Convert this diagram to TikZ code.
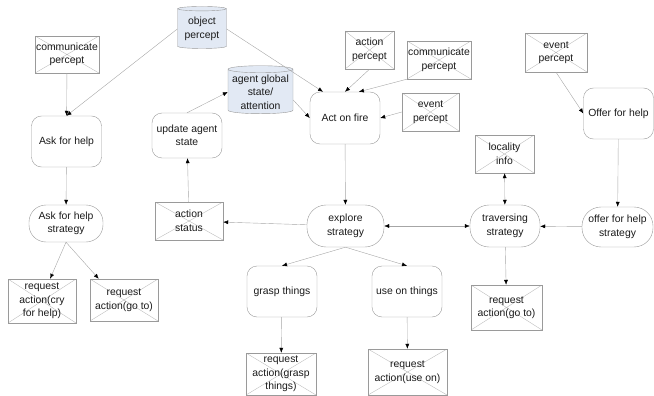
\documentclass[tikz,border=0pt]{standalone}
\usepackage{fontspec}
\setmainfont{Liberation Sans}
\usetikzlibrary{arrows.meta,shapes.geometric}
\definecolor{dgline}{HTML}{A6A6A6}
\definecolor{dgbox}{HTML}{9A9A9A}
\definecolor{dgcross}{HTML}{BDBDBD}
\definecolor{dgstore}{HTML}{E2E9F4}
\definecolor{dgtext}{HTML}{1A1A1A}
\tikzset{
  proc/.style={draw=dgbox, rounded corners=10pt, align=center, text=dgtext,
    minimum width=70pt, minimum height=51pt, inner sep=1pt},
  strat/.style={draw=dgbox, rounded corners=19pt, align=center, text=dgtext,
    minimum width=72pt, minimum height=41pt, inner sep=1pt},
  xbox/.style={draw=dgbox, align=center, text=dgtext, inner sep=1pt,
    path picture={\draw[dgcross] (path picture bounding box.north west) -- (path picture bounding box.south east)
      (path picture bounding box.south west) -- (path picture bounding box.north east);}},
  store/.style={cylinder, shape border rotate=90, aspect=0.12, draw=dgbox, fill=dgstore,
    align=center, text=dgtext, inner sep=1pt},
  arr/.style={-{Latex[length=5pt,width=4pt,color=black]}, dgline},
  twoarr/.style={{Latex[length=5pt,width=4pt,color=black]}-{Latex[length=5pt,width=4pt,color=black]}, dgline},
}
\begin{document}
\begin{tikzpicture}[x=1pt, y=-1pt, font=\fontsize{10.4}{13.5}\selectfont]
  \useasboundingbox (0,0) rectangle (654,396);
  \node[store, minimum width=49pt, minimum height=42pt] (objp) at (202,29) {object\\percept};
  \node[store, minimum width=65pt, minimum height=48pt] (agst) at (260.5,92) {agent global\\state/\\attention};
  \node[xbox, minimum width=62pt, minimum height=37pt] (commL) at (67,54.5) {communicate\\percept};
  \node[xbox, minimum width=49pt, minimum height=38pt] (actp) at (369.5,50) {action\\percept};
  \node[xbox, minimum width=62pt, minimum height=38pt] (commR) at (439,60) {communicate\\percept};
  \node[xbox, minimum width=57pt, minimum height=38pt] (evtM) at (430.5,112) {event\\percept};
  \node[xbox, minimum width=62pt, minimum height=39pt] (evtR) at (556,52.5) {event\\percept};
  \node[xbox, minimum width=59pt, minimum height=38pt] (local) at (504.5,154) {locality\\info};
  \node[xbox, minimum width=68pt, minimum height=38pt] (actst) at (189,221) {action\\status};
  \node[proc] (askhelp) at (66.5,141.5) {Ask for help};
  \node[proc, minimum height=45pt] (updst) at (187,135.5) {update agent\\state};
  \node[proc, minimum height=52pt] (fire) at (345,118) {Act on fire};
  \node[proc] (offer) at (618.5,113.5) {Offer for help};
  \node[strat, minimum width=74pt, minimum height=37pt, rounded corners=17pt] (askstr) at (66,223.5) {Ask for help\\strategy};
  \node[strat, minimum width=77pt, minimum height=42pt] (explore) at (345.5,226) {explore\\strategy};
  \node[strat, minimum width=70pt, minimum height=42pt] (travers) at (505,226) {traversing\\strategy};
  \node[strat, minimum width=71pt, minimum height=40pt] (offerstr) at (617.5,227) {offer for help\\strategy};
  \node[proc] (grasp) at (282,291.5) {grasp things};
  \node[proc] (useon) at (407,291.5) {use on things};
  \node[xbox, minimum width=68pt, minimum height=44pt] (reqcry) at (42,301) {request\\action(cry\\for help)};
  \node[xbox, minimum width=68pt, minimum height=42pt] (reqgoL) at (124,300) {request\\action(go to)};
  \node[xbox, minimum width=70pt, minimum height=42pt] (reqgrasp) at (281,374) {request\\action(grasp\\things)};
  \node[xbox, minimum width=79pt, minimum height=46pt] (requse) at (407.5,372) {request\\action(use on)};
  \node[xbox, minimum width=71pt, minimum height=45pt] (reqgoR) at (506.5,307.5) {request\\action(go to)};
  \draw[arr] (commL) -- (askhelp);
  \draw[arr] (objp.west) -- (askhelp.north);
  \draw[arr] (objp.east) -- (fire.130);
  \draw[arr] (updst.north) -- (agst.west);
  \draw[arr] ([yshift=-8pt]agst.east) -- (fire.west);
  \draw[arr] (actp.south) -- (fire.north);
  \draw[arr] (commR.south west) -- (fire.62);
  \draw[arr] (evtM.west) -- (fire.east);
  \draw[arr] (evtR.south) -- (offer.west);
  \draw[arr] (offer) -- (offerstr);
  \draw[arr] (offerstr) -- (travers);
  \draw[twoarr] (explore) -- (travers);
  \draw[twoarr] (travers) -- (local);
  \draw[arr] (travers) -- (reqgoR);
  \draw[arr] (fire) -- (explore);
  \draw[arr] (explore) -- (actst);
  \draw[arr] (actst) -- (updst);
  \draw[arr] (explore.south) -- (grasp.north);
  \draw[arr] (explore.south) -- (useon.north);
  \draw[arr] (grasp) -- (reqgrasp);
  \draw[arr] (useon) -- (requse);
  \draw[arr] (askhelp) -- (askstr);
  \draw[arr] (askstr.south) -- (reqcry.70);
  \draw[arr] (askstr.south) -- (reqgoL.140);
\end{tikzpicture}
\end{document}
